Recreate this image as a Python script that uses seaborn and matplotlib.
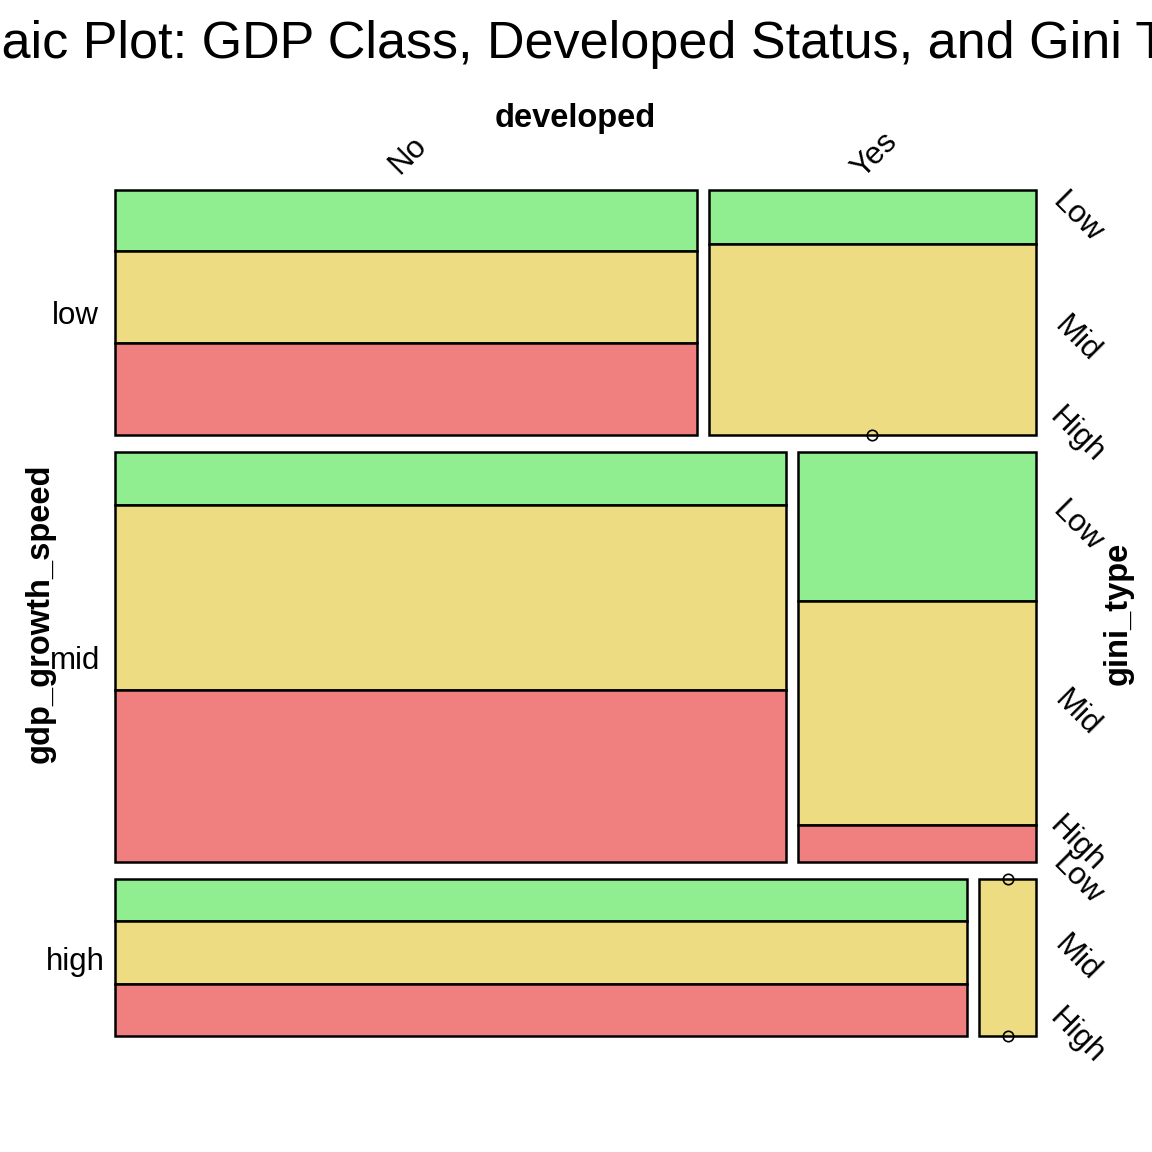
"""Mosaic plot of gdp_growth_speed x developed x gini_type, saved to out.png."""

import matplotlib

matplotlib.use("Agg")
import matplotlib.pyplot as plt
import numpy as np
import seaborn as sns

# counts per gini_type (Low, Mid, High) for each gdp / developed cell
gdp_levels = ["low", "mid", "high"]
developed_levels = ["No", "Yes"]
gini_levels = ["Low", "Mid", "High"]

low_no = [8, 12, 12]
low_yes = [4, 14, 0]
mid_no = [8, 28, 26]
mid_yes = [8, 12, 2]
high_no = [8, 12, 10]
high_yes = [0, 2, 0]

gini_colors = ["#90EE90", "#EEDC82", "#F08080"]
title = "Mosaic Plot: GDP Class, Developed Status, and Gini Type"

sns.set_theme(style="white")
plt.rcParams["font.family"] = ["Liberation Sans", "DejaVu Sans"]
plt.rcParams["text.color"] = "black"

counts = np.array([[low_no, low_yes], [mid_no, mid_yes], [high_no, high_yes]], dtype=float)
n_total = counts.sum()
row_tot = counts.sum(axis=(1, 2))

W, H = 1152, 1152
fig = plt.figure(figsize=(W / 100, H / 100), dpi=100)
# plot region in pixels: left, right, top, bottom
L, R, T, B = 115, 1036, 190, 1036
ax = fig.add_axes([L / W, 1 - B / H, (R - L) / W, (B - T) / H])
ax.set_xlim(0, 1)
ax.set_ylim(1, 0)
ax.axis("off")

row_gap = 17 / (B - T)
col_gap = 12 / (R - L)
avail_h = 1 - row_gap * (len(gdp_levels) - 1)
avail_w = 1 - col_gap * (len(developed_levels) - 1)

lab_font = 22.5
var_font = 23.5
y0 = 0.0
first_row_centers = []
for i, gdp in enumerate(gdp_levels):
    h_row = avail_h * row_tot[i] / n_total
    x0 = 0.0
    for j, dev in enumerate(developed_levels):
        cell = counts[i, j]
        n_cell = cell.sum()
        w = avail_w * n_cell / row_tot[i]
        yy = y0
        seg_centers = []
        for k, c in enumerate(cell):
            h = h_row * c / n_cell
            if c > 0:
                ax.bar(x0, h, width=w, bottom=yy, align="edge", clip_on=False,
                       color=gini_colors[k], edgecolor="black", linewidth=1.8)
            else:
                # empty cell: open circle on the boundary, like vcd
                ax.plot(x0 + w / 2, yy, "o", ms=7.5, mfc="none", mec="black",
                        mew=1.2, clip_on=False, zorder=5)
            seg_centers.append(yy + h / 2)
            yy += h
        if i == 0:
            first_row_centers.append(x0 + w / 2)
        if j == len(developed_levels) - 1:
            for k, g in enumerate(gini_levels):
                ax.annotate(g, xy=(1, seg_centers[k]), xytext=(41, 0),
                            textcoords="offset pixels", rotation=-45,
                            ha="center", va="center", fontsize=lab_font,
                            annotation_clip=False)
        x0 += w + col_gap
    ax.annotate(gdp, xy=(0, y0 + h_row / 2), xytext=(-40, -4),
                textcoords="offset pixels", ha="center", va="center",
                fontsize=lab_font, annotation_clip=False)
    y0 += h_row + row_gap

for j, dev in enumerate(developed_levels):
    ax.annotate(dev, xy=(first_row_centers[j], 0), xytext=(2, 35),
                textcoords="offset pixels", rotation=45, ha="center",
                va="center", fontsize=lab_font, annotation_clip=False)

ax.annotate("developed", xy=(0.5, 0), xytext=(0, 72), textcoords="offset pixels",
            ha="center", va="center", fontsize=var_font, fontweight="bold",
            annotation_clip=False)
ax.annotate("gdp_growth_speed", xy=(0, 0.5), xytext=(-75, 0),
            textcoords="offset pixels", rotation=90, ha="center", va="center",
            fontsize=var_font, fontweight="bold", annotation_clip=False)
ax.annotate("gini_type", xy=(1, 0.5), xytext=(82, 0),
            textcoords="offset pixels", rotation=90, ha="center", va="center",
            fontsize=var_font, fontweight="bold", annotation_clip=False)

fig.text(0.5, 1 - 58 / H, title, ha="center", va="baseline", fontsize=37.5)

fig.savefig("out.png", dpi=100, facecolor="white")
plt.close(fig)
